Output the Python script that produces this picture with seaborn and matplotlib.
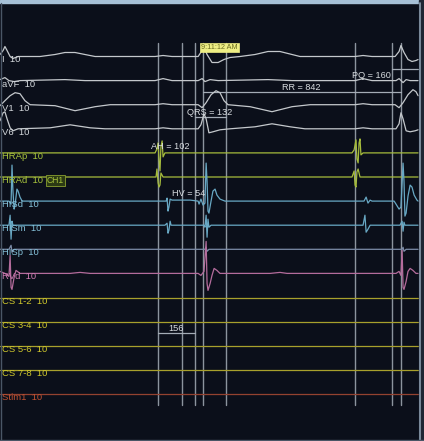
import numpy as np
import pandas as pd
import matplotlib
matplotlib.use("Agg")
import matplotlib.pyplot as plt
import seaborn as sns

# ------------------------------------------------------------------ data
channels = ["I", "aVF", "V1", "V6", "HRAp", "HRAd", "HISd", "HISm", "HISp",
            "RVd", "CS 1-2", "CS 3-4", "CS 5-6", "CS 7-8", "Stim1"]
gains = ["10"] * 15
groups = ["ecg"] * 4 + ["hra"] * 2 + ["his"] * 3 + ["rv"] + ["cs"] * 4 + ["stim"]

# time (ms) and amplitude (display units, up = positive)
i_t = [0, 13, 21, 30, 43, 55, 77, 170, 234, 276, 319, 361, 404, 659, 693, 731, 842, 859, 867,
       880, 901, 927, 952, 978, 1020, 1084, 1139, 1190, 1241, 1275, 1509, 1543, 1581, 1679,
       1696, 1704, 1717, 1734, 1751, 1768, 1777]
i_v = [2, 6, 10, 6, 0, -2, 0, 0, 2, 4, 4, 2, 0, 0, 1, 0, 0, 6, 9,
       2, -6, -6, -3, -1, 0, 2, 5, 5, 2, 0, 0, 1, 0, 0,
       5, 11, 4, -3, -5, -4, -3]

avf_t = [0, 21, 38, 60, 85, 276, 361, 659, 693, 731, 842, 859, 871, 893, 927, 1139, 1241,
         1509, 1543, 1581, 1683, 1696, 1713, 1726, 1743, 1777]
avf_v = [1, 3, 0, -1, 0, 1, 0, 0, 2, 0, 0, 2, -1, 1, 0, 1, 0,
         0, 2, 0, 0, 2, -2, 1, 0, 0]

v1_t = [0, 21, 43, 64, 85, 106, 128, 234, 319, 404, 468, 659, 693, 731, 842, 859, 876, 897,
        918, 935, 952, 969, 1063, 1156, 1241, 1318, 1509, 1543, 1581, 1679, 1696, 1713, 1734,
        1755, 1768, 1777]
v1_v = [-1, 4, 9, 12, 11, 4, 0, -1, -6, -2, 0, 0, 1, 0, 0, -3, 2, 10,
        14, 12, 4, 0, -2, -7, -2, 0, 0, 1, 0, 0, -3, 2, 10,
        15, 13, 9]

v6_t = [0, 13, 21, 30, 43, 55, 77, 213, 298, 383, 446, 659, 693, 731, 842, 854, 867, 876,
        888, 905, 935, 978, 1084, 1156, 1233, 1296, 1509, 1543, 1581, 1683, 1696, 1704, 1713,
        1726, 1743, 1764, 1777]
v6_v = [8, 16, 17, 10, 1, -2, 0, 1, 4, 1, 0, 0, 1, 0, 0, 4, 15, 10,
        -4, -3, -1, 0, 2, 5, 2, 0, 0, 1, 0, 0, 5, 16, 10,
        -2, -3, -2, -1]

hrap_t = [0, 659, 667, 672, 676, 680, 684, 689, 693, 701, 1496, 1505, 1513, 1517, 1522,
          1526, 1530, 1534, 1543, 1777]
hrap_v = [0, 0, 4, 10, -8, -18, 6, 12, -4, 0, 0, 3, 13, -6, -10,
          10, 14, -2, 0, 0]

hrad_t = [0, 663, 667, 672, 676, 680, 684, 693, 1496, 1505, 1509, 1513, 1517, 1522, 1530, 1777]
hrad_v = [0, 0, 8, -6, -10, -8, 4, 0, 0, 6, -8, -10, 5, 8, 0, 0]

hisd_t = [0, 38, 47, 51, 55, 60, 64, 72, 77, 85, 94, 706, 710, 714, 718, 723, 731, 808,
          842, 846, 854, 863, 871, 876, 880, 884, 888, 897, 905, 914, 922, 935, 956,
          1547, 1556, 1564, 1573, 1581, 1675, 1683, 1696, 1704, 1713, 1717, 1721, 1726,
          1734, 1743, 1751, 1760, 1772, 1777]
hisd_v = [0, 0, -3, 36, 10, -8, -4, 12, 10, 4, 0, 0, 3, -10, -6, 2, 1, 1,
          0, -3, 2, -4, -2, 38, 20, -10, -12, 0, 10, 12, 6, 2, 0,
          0, 4, -2, 1, 0, 0, -3, -8, -6, 38, 20, -15, -12,
          5, 16, 14, 6, 1, 0]

hism_t = [0, 38, 43, 47, 51, 55, 701, 710, 714, 718, 723, 727, 867, 871, 876, 880, 884, 888,
          897, 1543, 1551, 1556, 1564, 1573, 1700, 1709, 1713, 1717, 1721, 1777]
hism_v = [0, 0, 10, -14, 4, 0, 0, 2, -8, -5, 4, 0, 0, -2, 10, -12, 6, -2,
          0, 0, 10, -7, -4, 0, 0, 4, -6, 3, 0, 0]

hisp_t = [0, 38, 47, 51, 60, 871, 876, 880, 888, 1709, 1713, 1717, 1726, 1777]
hisp_v = [0, 0, 4, -3, 0, 0, 2, -2, 0, 0, 2, -2, 0, 0]

rvd_t = [0, 21, 38, 43, 47, 51, 60, 68, 85, 298, 340, 383, 842, 854, 867, 876, 880, 884,
         893, 901, 910, 922, 935, 1148, 1190, 1220, 1683, 1696, 1704, 1709, 1713, 1717,
         1726, 1734, 1743, 1755, 1768, 1777]
rvd_v = [2, 0, -3, 18, -14, -16, -4, 3, 0, 0, 1, 0, 0, -2, 2, 32, -10, -17,
         -10, -2, 5, 3, 0, 0, 1, 0, 0, 2, -2, 23, -14, -16,
         -8, 2, 5, 3, 0, 0]

flat_t = [0, 1777]
flat_v = [0, 0]

traces = {
    "I": (i_t, i_v), "aVF": (avf_t, avf_v), "V1": (v1_t, v1_v), "V6": (v6_t, v6_v),
    "HRAp": (hrap_t, hrap_v), "HRAd": (hrad_t, hrad_v),
    "HISd": (hisd_t, hisd_v), "HISm": (hism_t, hism_v), "HISp": (hisp_t, hisp_v),
    "RVd": (rvd_t, rvd_v),
    "CS 1-2": (flat_t, flat_v), "CS 3-4": (flat_t, flat_v),
    "CS 5-6": (flat_t, flat_v), "CS 7-8": (flat_t, flat_v), "Stim1": (flat_t, flat_v),
}

cursor_ms = [672, 774, 828, 862, 960, 1508, 1668, 1704]
meas_names = ["AH", "HV", "QRS", "RR", "PQ", ""]
meas_values = [102, 54, 132, 842, 160, 156]
clock_text = "9:11:12 AM"

# ------------------------------------------------------------------ layout
W, H = 424, 441
MS_PER_PX = 4.25
TOP = 56.5
STEP = 24.1
BG = "#0b0f1a"

trace_colors = {"ecg": "#c4c8cc", "hra": "#a6bc3c", "his": "#68a8c4", "rv": "#b46c9c",
                "cs": "#a8a02c", "stim": "#944230"}
label_colors = {"ecg": "#d4d8dc", "hra": "#a8c43c", "his": "#84c0d8", "rv": "#d07cb4",
                "cs": "#d0c82c", "stim": "#c05232"}

rows = []
for k, ch in enumerate(channels):
    t, v = traces[ch]
    base = TOP + STEP * k
    for tt, vv in zip(t, v):
        rows.append({"t": tt, "y": base - vv, "channel": ch})
df = pd.DataFrame(rows)
palette = {ch: trace_colors[g] for ch, g in zip(channels, groups)}
palette["HISp"] = "#7c8ca8"

sns.set_style("dark")
plt.rcParams["font.family"] = ["Liberation Sans", "DejaVu Sans"]

fig = plt.figure(figsize=(W / 100, H / 100), dpi=100)
fig.patch.set_facecolor(BG)
ax = fig.add_axes([0, 0, 1, 1])
ax.set_facecolor(BG)
ax.set_xlim(0, W * MS_PER_PX)
ax.set_ylim(H, 0)

# cursors
for c in cursor_ms:
    ax.plot([c, c], [43, 405], color="#a4acb6", lw=1.0, alpha=0.85, zorder=1)

sns.lineplot(data=df, x="t", y="y", hue="channel", palette=palette, estimator=None,
             sort=False, legend=False, lw=0.9, ax=ax, zorder=2)

# measurement bars
ax.plot([cursor_ms[3], cursor_ms[7]], [92, 92], color="#a4acb6", lw=0.9, zorder=1)
ax.plot([cursor_ms[6], 1777], [69, 69], color="#a4acb6", lw=0.9, zorder=1)
ax.plot([cursor_ms[2], cursor_ms[4]], [117, 117], color="#a4acb6", lw=0.9, zorder=1)
ax.plot([cursor_ms[0], cursor_ms[2]], [333, 333], color="#a4acb6", lw=0.9, zorder=1)

# channel labels
for k, (ch, g, gain) in enumerate(zip(channels, groups, gains)):
    ax.text(2 * MS_PER_PX, TOP + STEP * k + 3.5, f"{ch}  {gain}", color=label_colors[g],
            fontsize=6.8, va="center", ha="left", zorder=5)
ax.text(47 * MS_PER_PX, TOP + STEP * 5 + 3.5, "CH1", color="#a8c43c", fontsize=6.2,
        va="center", ha="left", zorder=5,
        bbox=dict(boxstyle="square,pad=0.15", fc="#2c3a14", ec="#8aa030", lw=0.6))

# measurement labels
tcol = "#d8dce0"
meas_pos = [(151, 146.5), (172, 193.5), (187, 112.5), (282, 87.5), (352, 76), (168, 328.5)]
for name, val, (px, py) in zip(meas_names, meas_values, meas_pos):
    s = f"{name} = {val}" if name else f"{val}"
    ax.text(px * MS_PER_PX, py, s, color=tcol, fontsize=6.6, va="center", ha="left", zorder=6)

ax.text(219.5 * MS_PER_PX, 47.5, clock_text, color="#6a6a20", fontsize=5.2, va="center",
        ha="center", zorder=7,
        bbox=dict(boxstyle="square,pad=0.2", fc="#eeee84", ec="#eeee84", lw=0.5))

# frame
ax.axhspan(0, 3, color="#a6c0d6", zorder=8)
ax.axvspan(419 * MS_PER_PX, W * MS_PER_PX, color="#1e2634", zorder=8)
ax.plot([419.5 * MS_PER_PX] * 2, [3, H], color="#8c9cae", lw=1.2, zorder=9)
ax.plot([0.5 * MS_PER_PX] * 2, [3, H], color="#4a5666", lw=1.0, zorder=9)
ax.plot([0, W * MS_PER_PX], [439.5, 439.5], color="#4a5666", lw=1.0, zorder=9)

ax.set_axis_off()
fig.savefig("out.png", dpi=100, facecolor=BG)
